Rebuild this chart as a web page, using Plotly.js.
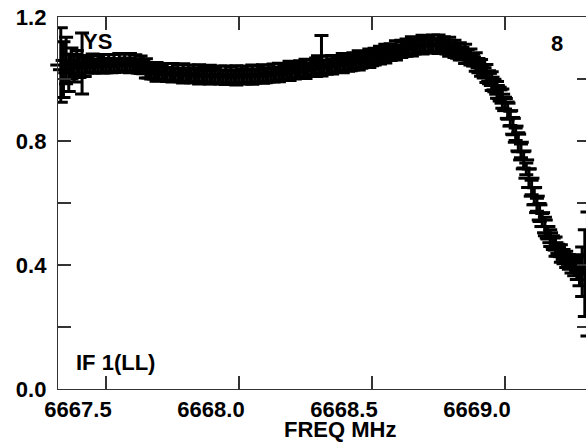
<!DOCTYPE html>
<html>
<head>
<meta charset="utf-8">
<script src="https://cdn.plot.ly/plotly-3.0.1.min.js"></script>
<style>
html,body{margin:0;padding:0;overflow:hidden;background:#fff;}
#chart{width:594px;height:443px;}
</style>
</head>
<body>
<div id="chart"></div>
<script>
// Frequency channels (MHz)
const freq = [
6667.33,6667.34,6667.35,6667.36,6667.37,6667.38,6667.39,6667.40,6667.41,6667.42,
6667.43,6667.44,6667.45,6667.46,6667.47,6667.48,6667.49,6667.50,6667.51,6667.52,
6667.53,6667.54,6667.55,6667.56,6667.57,6667.58,6667.59,6667.60,6667.61,6667.62,
6667.63,6667.64,6667.65,6667.66,6667.67,6667.68,6667.69,6667.70,6667.71,6667.72,
6667.73,6667.74,6667.75,6667.76,6667.77,6667.78,6667.79,6667.80,6667.81,6667.82,
6667.83,6667.84,6667.85,6667.86,6667.87,6667.88,6667.89,6667.90,6667.91,6667.92,
6667.93,6667.94,6667.95,6667.96,6667.97,6667.98,6667.99,6668.00,6668.01,6668.02,
6668.03,6668.04,6668.05,6668.06,6668.07,6668.08,6668.09,6668.10,6668.11,6668.12,
6668.13,6668.14,6668.15,6668.16,6668.17,6668.18,6668.19,6668.20,6668.21,6668.22,
6668.23,6668.24,6668.25,6668.26,6668.27,6668.28,6668.29,6668.30,6668.31,6668.32,
6668.33,6668.34,6668.35,6668.36,6668.37,6668.38,6668.39,6668.40,6668.41,6668.42,
6668.43,6668.44,6668.45,6668.46,6668.47,6668.48,6668.49,6668.50,6668.51,6668.52,
6668.53,6668.54,6668.55,6668.56,6668.57,6668.58,6668.59,6668.60,6668.61,6668.62,
6668.63,6668.64,6668.65,6668.66,6668.67,6668.68,6668.69,6668.70,6668.71,6668.72,
6668.73,6668.74,6668.75,6668.76,6668.77,6668.78,6668.79,6668.80,6668.81,6668.82,
6668.83,6668.84,6668.85,6668.86,6668.87,6668.88,6668.89,6668.90,6668.91,6668.92,
6668.93,6668.94,6668.95,6668.96,6668.97,6668.98,6668.99,6669.00,6669.01,6669.02,
6669.03,6669.04,6669.05,6669.06,6669.07,6669.08,6669.09,6669.10,6669.11,6669.12,
6669.13,6669.14,6669.15,6669.16,6669.17,6669.18,6669.19,6669.20,6669.21,6669.22,
6669.23,6669.24,6669.25,6669.26,6669.27,6669.28,6669.29,6669.30,6669.31
];
// Normalised amplitude per channel
const flux = [
1.045,1.030,1.060,1.020,1.050,1.035,1.052,1.040,1.050,1.038,
1.047,1.040,1.050,1.042,1.048,1.039,1.049,1.043,1.051,1.041,
1.050,1.044,1.052,1.045,1.053,1.046,1.051,1.043,1.050,1.042,
1.046,1.037,1.034,1.025,1.026,1.019,1.023,1.017,1.022,1.016,
1.021,1.015,1.020,1.014,1.019,1.013,1.018,1.012,1.017,1.011,
1.016,1.011,1.015,1.009,1.014,1.009,1.014,1.008,1.013,1.008,
1.013,1.007,1.012,1.007,1.013,1.008,1.012,1.007,1.013,1.008,
1.013,1.009,1.014,1.009,1.015,1.010,1.016,1.011,1.017,1.013,
1.019,1.015,1.021,1.017,1.023,1.020,1.026,1.022,1.028,1.025,
1.031,1.028,1.033,1.030,1.036,1.033,1.038,1.035,1.075,1.039,
1.044,1.040,1.046,1.043,1.048,1.045,1.051,1.047,1.053,1.050,
1.057,1.054,1.060,1.057,1.063,1.061,1.067,1.066,1.072,1.071,
1.077,1.076,1.082,1.081,1.087,1.086,1.092,1.091,1.097,1.096,
1.101,1.100,1.105,1.103,1.108,1.106,1.111,1.108,1.113,1.109,
1.113,1.109,1.112,1.107,1.109,1.103,1.104,1.097,1.097,1.090,
1.089,1.082,1.081,1.073,1.071,1.061,1.055,1.043,1.036,1.024,
1.018,1.006,0.993,0.979,0.965,0.951,0.937,0.922,0.898,0.873,
0.848,0.822,0.796,0.768,0.739,0.710,0.680,0.650,0.622,0.594,
0.569,0.545,0.524,0.504,0.487,0.472,0.459,0.448,0.437,0.427,
0.418,0.410,0.402,0.395,0.389,0.383,0.378,0.374,0.371
];
// Error bar half-lengths
const fluxErr = [
0.120,0.090,0.075,0.060,0.050,0.045,0.040,0.035,0.098,0.030,
0.028,0.020,0.031,0.022,0.026,0.019,0.030,0.023,0.027,0.021,
0.029,0.021,0.030,0.020,0.027,0.022,0.031,0.019,0.028,0.023,
0.028,0.020,0.031,0.022,0.026,0.019,0.030,0.023,0.027,0.021,
0.029,0.021,0.030,0.020,0.027,0.022,0.031,0.019,0.028,0.023,
0.028,0.020,0.031,0.022,0.026,0.019,0.030,0.023,0.027,0.021,
0.029,0.021,0.030,0.020,0.027,0.022,0.031,0.019,0.028,0.023,
0.028,0.020,0.031,0.022,0.026,0.019,0.030,0.023,0.027,0.021,
0.029,0.021,0.030,0.020,0.027,0.022,0.031,0.019,0.028,0.023,
0.028,0.020,0.031,0.022,0.026,0.019,0.030,0.023,0.065,0.021,
0.029,0.021,0.030,0.020,0.027,0.022,0.031,0.019,0.028,0.023,
0.028,0.020,0.031,0.022,0.026,0.019,0.030,0.023,0.027,0.021,
0.029,0.021,0.030,0.020,0.027,0.022,0.031,0.019,0.028,0.023,
0.028,0.020,0.031,0.022,0.026,0.019,0.030,0.023,0.027,0.021,
0.029,0.021,0.030,0.020,0.027,0.022,0.031,0.019,0.028,0.023,
0.028,0.020,0.031,0.022,0.026,0.019,0.030,0.023,0.027,0.021,
0.029,0.021,0.030,0.020,0.027,0.022,0.031,0.019,0.028,0.023,
0.028,0.020,0.031,0.022,0.026,0.019,0.030,0.023,0.027,0.021,
0.029,0.021,0.030,0.020,0.027,0.022,0.031,0.019,0.028,0.023,
0.026,0.024,0.028,0.030,0.036,0.050,0.080,0.140,0.200
];
const xTickVals = [6667.5, 6668.0, 6668.5, 6669.0];
const xTickText = ['6667.5', '6668.0', '6668.5', '6669.0'];
const yTickVals = [0.0, 0.2, 0.4, 0.6, 0.8, 1.0, 1.2];
const yTickText = ['0.0', '', '0.4', '', '0.8', '', '1.2'];
const xTitle = 'FREQ MHz';
const labelSource = 'YS';
const labelPanel = '8';
const labelIF = 'IF 1(LL)';

const font = {family: 'Liberation Sans, Arial, sans-serif', size: 22, color: '#000', weight: 700};

const trace = {
  x: freq, y: flux, type: 'scatter', mode: 'markers',
  marker: {symbol: 'line-ew', size: 15, color: '#000', line: {color: '#000', width: 3}},
  error_y: {type: 'data', array: fluxErr, visible: true, color: '#000', thickness: 3, width: 7},
  cliponaxis: false, hoverinfo: 'none', showlegend: false
};

const axisCommon = {
  showline: true, linecolor: '#333', linewidth: 1.2, mirror: 'allticks',
  ticks: 'inside', ticklen: 13, tickcolor: '#333', tickwidth: 1.2,
  showgrid: false, zeroline: false, tickfont: font
};

const layout = {
  width: 594, height: 443,
  margin: {l: 58, r: 4, t: 17, b: 54},
  paper_bgcolor: '#fff', plot_bgcolor: '#fff',
  font: font,
  xaxis: Object.assign({}, axisCommon, {
    range: [6667.3195, 6669.3195], tickvals: xTickVals, ticktext: xTickText,
    ticklabelshift: -28, ticklabelstandoff: 0
  }),
  yaxis: Object.assign({}, axisCommon, {
    range: [0, 1.2], tickvals: yTickVals, ticktext: yTickText,
    ticklabelstandoff: 6
  }),
  annotations: [
    {xref: 'paper', yref: 'paper', x: (340 - 58) / 532, y: (389 - 430) / 372, text: xTitle, showarrow: false, font: font, xanchor: 'center', yanchor: 'middle'},
    {xref: 'paper', yref: 'paper', x: (97 - 58) / 532, y: (389 - 41) / 372, text: labelSource, showarrow: false, font: font, xanchor: 'center', yanchor: 'middle'},
    {xref: 'paper', yref: 'paper', x: (557 - 58) / 532, y: (389 - 43) / 372, text: labelPanel, showarrow: false, font: font, xanchor: 'center', yanchor: 'middle'},
    {xref: 'paper', yref: 'paper', x: (115 - 58) / 532, y: (389 - 362) / 372, text: labelIF, showarrow: false, font: font, xanchor: 'center', yanchor: 'middle'}
  ]
};

Plotly.newPlot('chart', [trace], layout, {staticPlot: true, displayModeBar: false});
</script>
</body>
</html>
